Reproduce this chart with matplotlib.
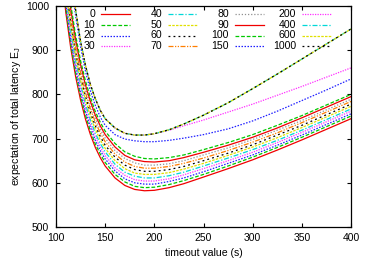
import matplotlib
matplotlib.use('Agg')
import matplotlib.pyplot as plt

plt.rcParams['font.family'] = ['Liberation Sans', 'DejaVu Sans']

# timeout values (s)
timeout = [105, 110, 115, 120, 125, 130, 135, 140, 145, 150, 160, 170, 180, 190,
           200, 215, 230, 250, 275, 300, 325, 350, 375, 400]

# expected total latency for each parameter value
lat_0 = [1090, 985, 905, 840, 787, 744, 709, 680, 657, 638, 611, 594, 585, 582,
         583, 589, 598, 613, 632, 652, 674, 697, 721, 745]
lat_10 = [1101, 996, 915, 849, 796, 753, 717, 688, 665, 646, 619, 602, 592, 589,
          590, 596, 605, 619, 638, 658, 680, 703, 727, 751]
lat_20 = [1112, 1006, 925, 859, 805, 761, 726, 696, 673, 654, 627, 609, 600, 597,
          597, 603, 611, 625, 644, 663, 685, 708, 732, 756]
lat_30 = [1123, 1017, 934, 868, 814, 770, 734, 704, 681, 662, 634, 617, 607, 604,
          604, 609, 618, 632, 650, 669, 691, 714, 738, 762]
lat_40 = [1134, 1027, 944, 877, 823, 778, 742, 712, 689, 670, 642, 624, 615, 611,
          611, 616, 624, 638, 656, 675, 696, 719, 743, 767]
lat_50 = [1145, 1038, 954, 887, 832, 787, 751, 721, 697, 678, 650, 632, 622, 619,
          619, 623, 631, 644, 662, 681, 702, 725, 749, 773]
lat_60 = [1156, 1048, 964, 896, 840, 796, 759, 729, 705, 685, 658, 640, 630, 626,
          626, 630, 637, 650, 667, 686, 708, 730, 754, 778]
lat_70 = [1167, 1059, 974, 905, 849, 804, 767, 737, 713, 693, 665, 647, 637, 633,
          633, 637, 644, 656, 673, 692, 713, 736, 760, 784]
lat_80 = [1178, 1069, 983, 914, 858, 813, 776, 745, 721, 701, 673, 655, 645, 640,
          640, 643, 650, 663, 679, 698, 719, 741, 765, 789]
lat_90 = [1189, 1080, 993, 924, 867, 821, 784, 753, 729, 709, 681, 662, 652, 648,
          647, 650, 657, 669, 685, 703, 724, 747, 771, 795]
lat_100 = [1200, 1090, 1003, 933, 876, 830, 793, 761, 737, 717, 689, 670, 660, 655,
           654, 657, 663, 675, 691, 709, 730, 752, 776, 800]
lat_150 = [1380, 1185, 1065, 977, 908, 852, 808, 775, 749, 730, 709, 699, 695, 693,
           693, 696, 701, 709, 722, 740, 762, 786, 810, 835]
lat_200 = [1400, 1200, 1080, 990, 920, 865, 822, 790, 764, 745, 724, 712, 708, 708,
           711, 719, 729, 742, 760, 778, 798, 818, 839, 860]
lat_400 = [1400, 1200, 1080, 990, 920, 865, 822, 790, 764, 745, 724, 712, 708, 708,
           711, 720, 733, 753, 781, 813, 846, 880, 914, 948]
lat_600 = [1400, 1200, 1080, 990, 920, 865, 822, 790, 764, 745, 724, 712, 708, 708,
           711, 720, 733, 753, 781, 813, 846, 880, 914, 948]
lat_1000 = [1400, 1200, 1080, 990, 920, 865, 822, 790, 764, 745, 724, 712, 708, 708,
            711, 720, 733, 753, 781, 813, 846, 880, 914, 948]

labels = ['0', '10', '20', '30', '40', '50', '60', '70', '80', '90',
          '100', '150', '200', '400', '600', '1000']
series = [lat_0, lat_10, lat_20, lat_30, lat_40, lat_50, lat_60, lat_70, lat_80,
          lat_90, lat_100, lat_150, lat_200, lat_400, lat_600, lat_1000]

# gnuplot-like line types (cycle of 9)
colors = ['#f00000', '#00c800', '#2020ff', '#ff30ff', '#00d8d8',
          '#e0e000', '#000000', '#ff7f00', '#909090']
dashes = ['-', (0, (3, 1.5)), (0, (1.2, 1.2)), (0, (1, 1)), (0, (4, 1.5, 1, 1.5)),
          (0, (2, 1)), (0, (1.5, 2.5)), (0, (4, 1.2, 1, 1.2, 1, 1.2)), (0, (1, 1.5))]

fig = plt.figure(figsize=(3.82, 2.60), dpi=100)
ax = fig.add_axes([56 / 382, 33 / 260, 295 / 382, 221 / 260])

for i, (lab, y) in enumerate(zip(labels, series)):
    c = colors[i % 9]
    ls = dashes[i % 9]
    ax.plot(timeout, y, color=c, linestyle=ls, lw=0.9)
    # legend entry drawn gnuplot style: right-aligned text, then line sample
    col, row = i // 4, i % 4
    ypx = 14.3 + 10.6 * row
    yf = (227 - ypx) / 221
    ax.text((39 + 67 * col) / 295, yf, lab, transform=ax.transAxes,
            ha='right', va='center', fontsize=7.6)
    ax.plot([(45 + 67 * col) / 295, (74 + 67 * col) / 295], [yf, yf],
            transform=ax.transAxes, color=c, linestyle=ls, lw=0.9, clip_on=False)

ax.set_xlim(100, 400)
ax.set_ylim(500, 1000)
ax.set_xticks(range(100, 401, 50))
ax.set_yticks(range(500, 1001, 100))
ax.tick_params(direction='in', top=True, right=True, length=3, width=0.8, labelsize=7.5)
ax.tick_params(axis='y', pad=5)
ax.tick_params(axis='x', pad=4)
for s in ax.spines.values():
    s.set_linewidth(0.9)

ax.set_xlabel('timeout value (s)', fontsize=7.6, labelpad=4)
ax.set_ylabel(r'expectation of total latency E$_\mathregular{J}$', fontsize=7.6, labelpad=2)

plt.savefig('out.png', dpi=100)
